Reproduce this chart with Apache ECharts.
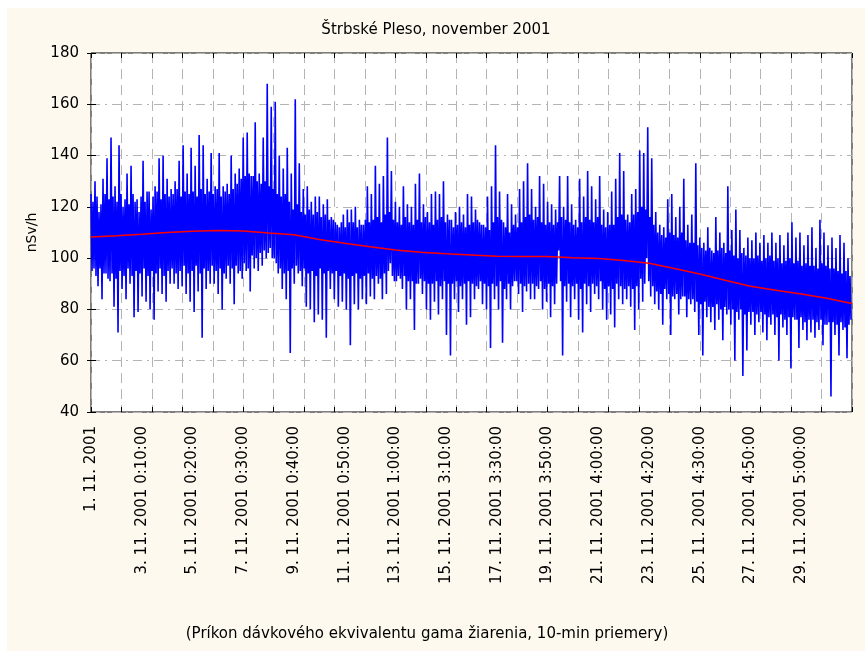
<!DOCTYPE html>
<html>
<head>
<meta charset="utf-8">
<script src="https://cdn.jsdelivr.net/npm/echarts@6/dist/echarts.min.js"></script>
<style>html,body{margin:0;padding:0;background:#fff;}#c{width:865px;height:651px;}</style>
</head>
<body>
<div id="c"></div>
<script>
// Tick labels on the x axis (every 2 days)
const tickLabels = ["1. 11. 2001", "3. 11. 2001 0:10:00", "5. 11. 2001 0:20:00", "7. 11. 2001 0:30:00",
  "9. 11. 2001 0:40:00", "11. 11. 2001 0:50:00", "13. 11. 2001 1:00:00", "15. 11. 2001 3:10:00",
  "17. 11. 2001 3:30:00", "19. 11. 2001 3:50:00", "21. 11. 2001 4:00:00", "23. 11. 2001 4:20:00",
  "25. 11. 2001 4:30:00", "27. 11. 2001 4:50:00", "29. 11. 2001 5:00:00"];
const yTicks = [40, 60, 80, 100, 120, 140, 160, 180];
const daysInMonth = 30;

// 10-min dose-rate values (nSv/h), whole month
const doseRate = [
125,95,122,96,130,93,124,89,118,96,121,84,131,94,125,94,139,92,123,91,
147,94,124,81,128,92,122,71,144,95,125,88,120,93,123,84,133,96,121,90,
136,93,125,77,122,95,123,79,118,94,124,85,138,96,122,83,126,93,126,80,
119,95,124,76,128,94,126,87,139,96,123,86,140,93,125,83,131,95,124,90,
127,96,125,90,130,94,127,88,138,95,124,89,144,97,126,86,133,94,125,83,
143,95,126,79,136,97,124,87,148,94,127,69,144,96,125,88,131,95,126,90,
141,97,125,90,128,95,127,86,141,96,124,80,128,94,126,92,129,97,125,90,
140,96,127,82,133,97,129,94,135,95,131,92,147,98,132,95,149,96,133,87,
132,101,132,96,153,100,130,95,133,102,129,97,147,103,130,100,168,102,128,104,
159,100,127,100,161,98,125,94,140,96,124,88,135,94,125,84,143,95,122,63,
133,96,119,90,162,97,121,94,137,95,118,89,127,96,117,81,128,94,119,80,
122,95,117,75,124,93,118,78,124,96,116,76,121,94,117,69,123,95,115,88,
116,94,115,84,114,95,113,81,112,93,114,83,117,94,112,80,119,92,114,66,
119,93,114,82,120,94,112,80,115,92,113,84,113,93,115,82,128,94,114,85,
125,92,115,84,136,93,116,90,129,92,114,84,132,94,117,86,147,95,118,98,
134,93,115,91,122,91,114,93,120,92,113,88,128,93,116,80,121,91,114,84,
120,91,113,72,129,90,115,90,133,92,114,86,121,91,116,80,118,90,114,76,
125,90,113,83,126,91,115,78,125,89,116,84,130,91,114,70,117,90,115,62,
115,90,112,84,118,91,113,79,120,89,114,84,117,90,112,74,125,91,113,77,
124,90,114,84,119,89,115,88,114,91,113,82,113,90,112,80,124,89,111,65,
128,90,114,84,144,89,116,80,126,91,115,67,114,88,112,84,125,90,110,80,
121,89,113,91,117,91,112,86,127,90,114,79,130,89,116,87,137,90,117,84,
127,90,115,84,120,89,116,88,132,91,114,80,129,88,113,83,122,90,114,77,
121,89,113,82,119,90,114,103,132,91,116,62,120,89,115,83,132,90,114,77,
121,89,113,84,115,90,112,76,131,88,114,71,124,90,116,82,134,89,115,79,
128,90,114,86,123,89,116,84,132,91,113,80,119,88,112,76,118,89,113,78,
126,88,113,73,131,90,116,84,141,89,117,82,134,88,115,84,117,89,114,81,
125,88,117,72,127,89,118,80,142,92,120,83,141,90,119,100,151,91,116,85,
139,89,113,82,118,87,110,80,113,86,109,74,112,88,108,84,123,86,110,70,
125,85,109,84,116,86,108,78,120,84,110,85,131,85,107,77,113,84,106,82,
117,84,106,79,137,83,105,70,108,82,104,62,106,83,103,77,112,81,104,75,
103,81,102,72,116,82,103,76,110,80,104,68,106,81,102,78,128,80,103,74,
111,80,101,60,119,79,100,76,111,80,102,54,104,78,101,64,108,79,100,74,
107,79,100,70,110,78,101,75,106,79,99,71,109,78,100,68,106,77,101,74,
110,78,99,70,106,77,100,60,109,78,98,73,105,76,99,70,110,77,100,57,
114,77,98,76,108,76,99,65,110,77,97,72,105,75,98,68,109,76,97,71,
112,76,97,69,104,75,96,72,115,76,98,66,110,74,97,74,105,75,96,46,
108,75,96,70,104,74,95,62,109,75,94,72,106,73,95,61,100,74,93,76
];

// Smoothed trend (red), one value per day 0..30
const trend = [108.2,108.7,109.3,110.0,110.5,110.8,110.6,109.8,109.1,107.3,105.8,104.4,103.2,102.3,101.7,
  101.2,100.7,100.6,100.6,100.2,99.9,99.1,98.0,96.0,93.8,91.4,89.0,87.5,86.0,84.4,82.3];

const titleText = 'Štrbské Pleso, november 2001';
const footerText = '(Príkon dávkového ekvivalentu gama žiarenia, 10-min priemery)';
const yName = 'nSv/h';

const step = daysInMonth / doseRate.length;
const doseData = doseRate.map((v, i) => [i * step, v]);
const trendData = trend.map((v, d) => [d, v]);

const FONT = 'DejaVu Sans';
const chart = echarts.init(document.getElementById('c'), null, {renderer: 'canvas'});
chart.setOption({
  animation: false,
  backgroundColor: '#fdf9ee',
  graphic: [
    {type: 'rect', shape: {x: 0, y: 0, width: 865, height: 8}, style: {fill: '#ffffff'}, silent: true},
    {type: 'rect', shape: {x: 0, y: 0, width: 7, height: 651}, style: {fill: '#ffffff'}, silent: true},
    {type: 'text', x: 436, y: 30, style: {text: titleText, font: '15px "DejaVu Sans"', fill: '#000', align: 'center', verticalAlign: 'middle'}},
    {type: 'text', x: 427, y: 634, style: {text: footerText, font: '15px "DejaVu Sans"', fill: '#000', align: 'center', verticalAlign: 'middle'}}
  ],
  grid: {left: 91, right: 13, top: 53, bottom: 239, show: true, backgroundColor: '#ffffff',
         borderColor: '#000', borderWidth: 1, containLabel: false, outerBoundsMode: 'none'},
  xAxis: [
    {type: 'value', min: 0, max: daysInMonth, interval: 2, position: 'bottom',
     axisLine: {show: false}, axisTick: {show: false}, splitLine: {show: false},
     axisLabel: {rotate: 90, margin: 14, fontSize: 15, fontFamily: FONT, color: '#000',
       showMinLabel: true, showMaxLabel: true,
       formatter: v => { const k = Math.round(v / 2); return (k < tickLabels.length) ? tickLabels[k] : ''; }}},
    {type: 'value', min: 0, max: 25, interval: 1, position: 'bottom',
     axisLine: {show: false}, axisLabel: {show: false},
     axisTick: {show: true, inside: true, length: 5, lineStyle: {color: '#000'}},
     splitLine: {show: true, lineStyle: {color: '#b4b4b4', type: [10, 6], width: 1}}},
    {type: 'value', min: 0, max: 25, interval: 1, position: 'top',
     axisLine: {show: false}, axisLabel: {show: false},
     axisTick: {show: true, inside: true, length: 5, lineStyle: {color: '#000'}},
     splitLine: {show: false}}
  ],
  yAxis: [
    {type: 'value', min: yTicks[0], max: yTicks[yTicks.length - 1], interval: 20, position: 'left',
     name: yName, nameLocation: 'middle', nameGap: 38, nameRotate: 90,
     nameTextStyle: {fontSize: 14, fontFamily: FONT, color: '#000'},
     axisLine: {show: false},
     axisTick: {show: true, inside: true, length: 5, lineStyle: {color: '#000'}},
     axisLabel: {fontSize: 15, fontFamily: FONT, color: '#000', margin: 12},
     splitLine: {show: true, lineStyle: {color: '#b4b4b4', type: [9, 5, 2, 5], width: 1}}},
    {type: 'value', min: yTicks[0], max: yTicks[yTicks.length - 1], interval: 20, position: 'right',
     axisLine: {show: false}, axisLabel: {show: false},
     axisTick: {show: true, inside: true, length: 4, lineStyle: {color: '#000'}},
     splitLine: {show: false}}
  ],
  series: [
    {type: 'line', name: 'dose', xAxisIndex: 0, yAxisIndex: 0, data: doseData, showSymbol: false,
     symbol: 'none', lineStyle: {color: '#0000ff', width: 1.6}, z: 3},
    {type: 'line', name: 'trend', xAxisIndex: 0, yAxisIndex: 0, data: trendData, showSymbol: false,
     symbol: 'none', lineStyle: {color: '#ff0000', width: 1.5}, z: 4}
  ]
});
</script>
</body>
</html>
